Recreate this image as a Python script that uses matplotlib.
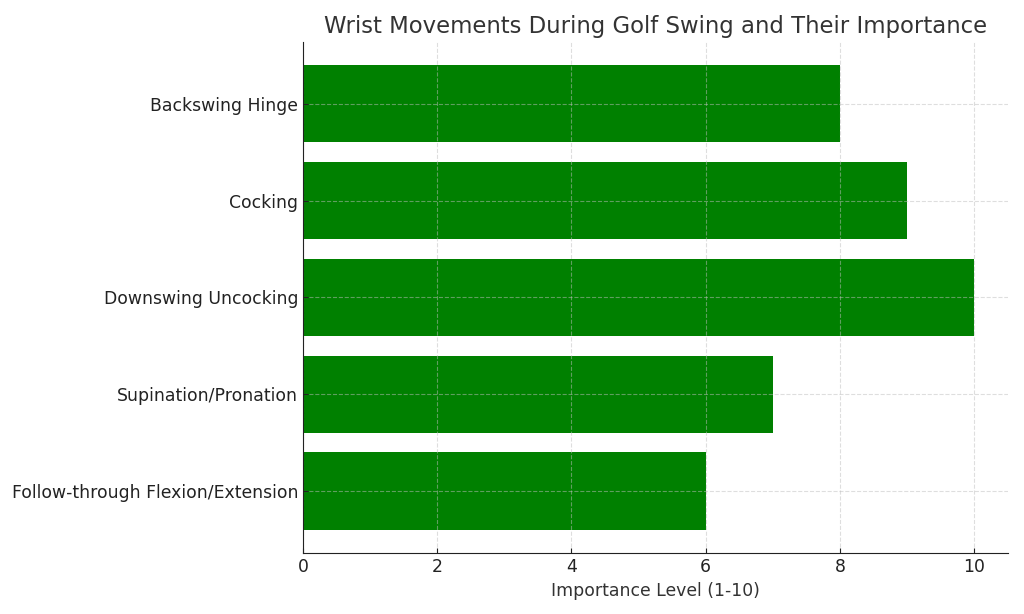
import matplotlib.pyplot as plt

plt.rcParams["font.family"] = ["DejaVu Sans"]

# Data
movements = ["Backswing Hinge", "Cocking", "Downswing Uncocking",
             "Supination/Pronation", "Follow-through Flexion/Extension"]
importance = [8, 9, 10, 7, 6]

text_color = "#333333"

fig, ax = plt.subplots(figsize=(10.24, 6.14), dpi=100)
fig.subplots_adjust(left=0.296, right=0.984, top=0.932, bottom=0.099)

ax.barh(movements, importance, color="green", height=0.8)
ax.invert_yaxis()

ax.set_title("Wrist Movements During Golf Swing and Their Importance",
             fontsize=16.4, color=text_color)
ax.set_xlabel("Importance Level (1-10)", fontsize=12.4, color=text_color)

# grid sits on top of the bars, light and dashed
ax.grid(True, linestyle="--", color="#bfbfbf", alpha=0.5, linewidth=0.8)
ax.tick_params(direction="in", labelsize=12.4, colors="#222222")
for s in ["top", "right"]:
    ax.spines[s].set_visible(False)
for s in ["left", "bottom"]:
    ax.spines[s].set_color("#222222")

fig.savefig("out.png", dpi=100)
